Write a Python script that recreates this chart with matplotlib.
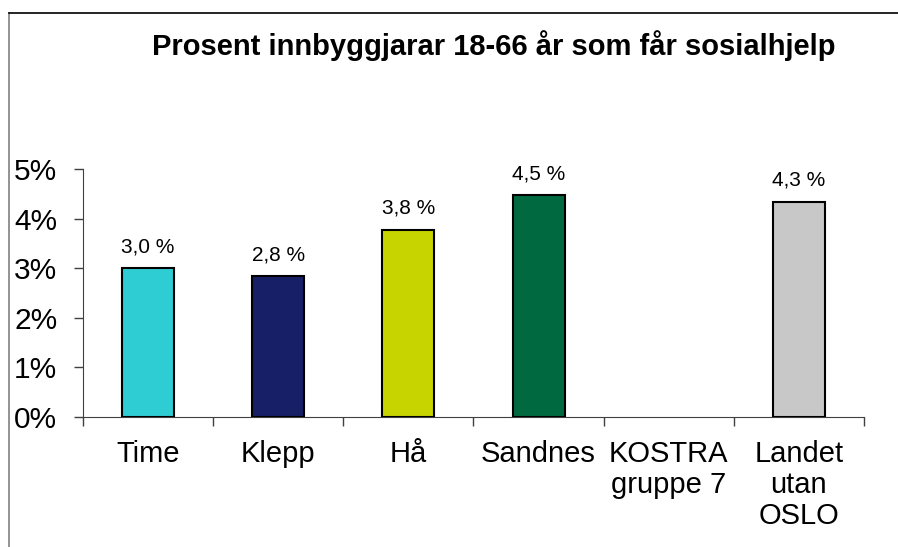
import numpy as np
import matplotlib.pyplot as plt
from matplotlib.lines import Line2D

plt.rcParams['font.family'] = ['Liberation Sans', 'DejaVu Sans']

# data
kategoriar = ["Time", "Klepp", "Hå", "Sandnes", "KOSTRA\ngruppe 7", "Landet\nutan\nOSLO"]
verdiar = [3.0, 2.84, 3.77, 4.47, np.nan, 4.34]
etikettar = ["3,0 %", "2,8 %", "3,8 %", "4,5 %", "", "4,3 %"]
fargar = ["#2ECCD3", "#172066", "#C8D400", "#006940", "#FFFFFF", "#C8C8C8"]
yticks = [0, 1, 2, 3, 4, 5]
ytick_labels = ["0%", "1%", "2%", "3%", "4%", "5%"]

fig = plt.figure(figsize=(8.98, 5.47), dpi=100)
ax = fig.add_axes([83 / 898, 1 - 416.7 / 547, (864 - 83) / 898, (416.7 - 169) / 547])

x = np.arange(len(kategoriar))
for i, (v, c) in enumerate(zip(verdiar, fargar)):
    if np.isnan(v):
        continue
    ax.bar(x[i], v, width=0.4, color=c, edgecolor="black", linewidth=1.5, zorder=3)
    ax.annotate(etikettar[i], (x[i], v), xytext=(0, 11.5), textcoords="offset points",
                ha="center", va="baseline", fontsize=15)

ax.set_xlim(-0.5, len(kategoriar) - 0.5)
ax.set_ylim(0, 5)
ax.set_yticks(yticks)
ax.set_yticklabels(ytick_labels, fontsize=21.5)
ax.tick_params(axis="y", length=6.5, width=1, color="#404040", pad=12)

# category labels, ticks sit at the category borders
ax.set_xticks(x)
ax.set_xticklabels(kategoriar, fontsize=21, va="top", linespacing=1.14)
ax.tick_params(axis="x", length=0, pad=17)
ax.set_xticks(np.arange(-0.5, len(kategoriar)), minor=True)
ax.tick_params(axis="x", which="minor", length=6.5, width=1, color="#404040")

for s in ["top", "right"]:
    ax.spines[s].set_visible(False)
ax.spines["left"].set_color("#404040")
ax.spines["bottom"].set_color("#404040")

fig.text(494 / 898, 1 - 55 / 547, "Prosent innbyggjarar 18-66 år som får sosialhjelp",
         ha="center", va="baseline", fontsize=21, fontweight="bold")

# frame around the chart area
fig.add_artist(Line2D([9 / 898, 9 / 898], [0, 1 - 13 / 547], transform=fig.transFigure,
                      color="#808080", linewidth=1.2))
fig.add_artist(Line2D([9 / 898, 1], [1 - 13 / 547, 1 - 13 / 547], transform=fig.transFigure,
                      color="black", linewidth=1.2))

fig.savefig("out.png", dpi=100)
